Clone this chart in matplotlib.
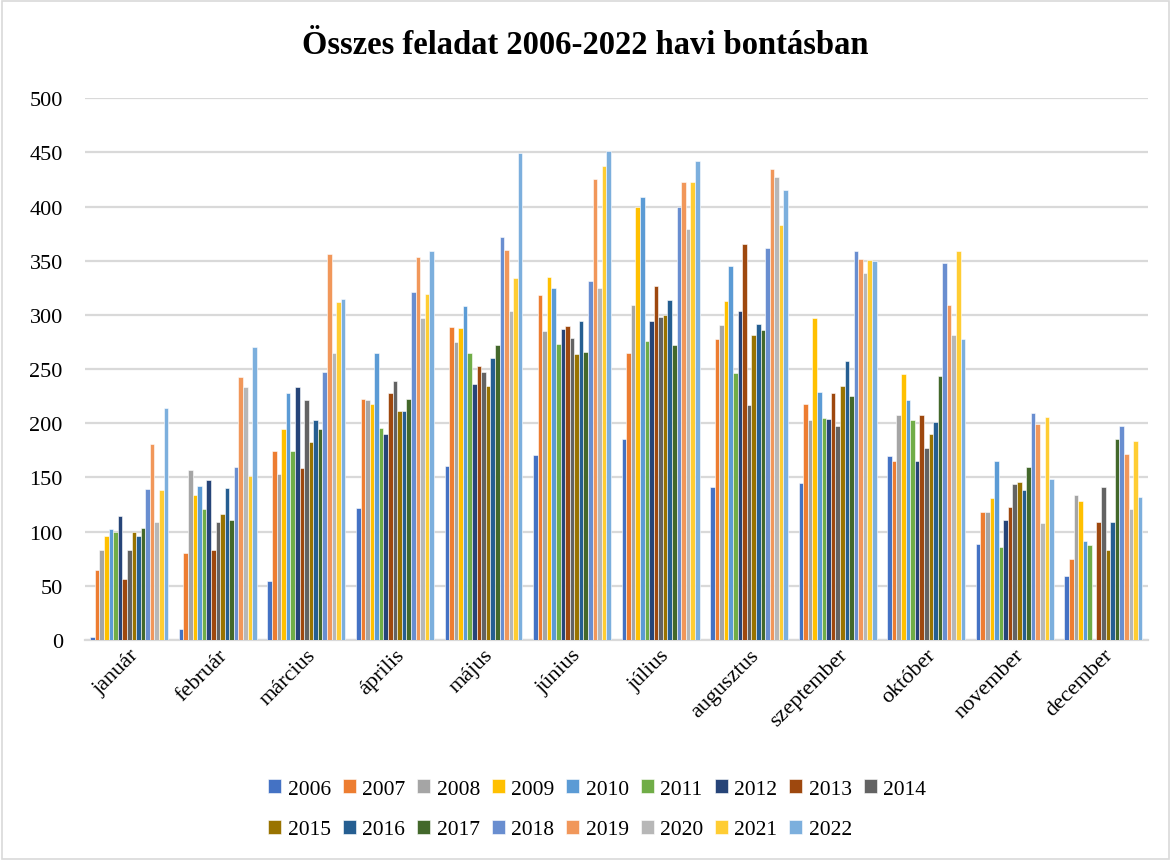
import matplotlib
matplotlib.use("Agg")
import matplotlib.pyplot as plt
from matplotlib.patches import Rectangle
import numpy as np

months = ["január", "február", "március", "április", "május", "június",
          "július", "augusztus", "szeptember", "október", "november", "december"]
years = [str(y) for y in range(2006, 2023)]

# havi feladatszámok évenként (jan..dec)
v2006 = [3, 10, 54, 122, 161, 171, 185, 141, 145, 170, 89, 59]
v2007 = [65, 80, 174, 222, 289, 318, 265, 278, 218, 165, 118, 75]
v2008 = [83, 157, 153, 221, 275, 285, 309, 291, 203, 208, 118, 134]
v2009 = [96, 134, 195, 218, 288, 335, 400, 313, 297, 245, 131, 128]
v2010 = [102, 142, 228, 265, 308, 325, 409, 345, 229, 221, 165, 91]
v2011 = [100, 121, 174, 196, 265, 273, 276, 246, 205, 203, 86, 88]
v2012 = [114, 148, 233, 190, 236, 287, 294, 304, 204, 165, 111, 0]
v2013 = [56, 83, 159, 228, 253, 290, 327, 365, 228, 208, 123, 109]
v2014 = [83, 109, 221, 239, 247, 279, 298, 217, 197, 177, 144, 141]
v2015 = [100, 116, 183, 211, 234, 264, 300, 281, 234, 190, 146, 83]
v2016 = [96, 140, 203, 211, 260, 294, 314, 292, 257, 201, 138, 109]
v2017 = [103, 111, 195, 222, 272, 266, 272, 286, 225, 244, 160, 185]
v2018 = [139, 160, 247, 321, 372, 331, 400, 362, 359, 348, 209, 197]
v2019 = [181, 243, 356, 353, 360, 425, 423, 435, 352, 309, 199, 172]
v2020 = [109, 233, 265, 297, 304, 325, 379, 427, 339, 281, 108, 121]
v2021 = [138, 151, 312, 319, 334, 437, 423, 383, 351, 359, 206, 184]
v2022 = [214, 270, 315, 359, 449, 451, 442, 415, 350, 278, 149, 132]

series = [v2006, v2007, v2008, v2009, v2010, v2011, v2012, v2013, v2014,
          v2015, v2016, v2017, v2018, v2019, v2020, v2021, v2022]

colors = ["#4472C4", "#ED7D31", "#A5A5A5", "#FFC000", "#5B9BD5", "#70AD47",
          "#264478", "#9E480E", "#636363", "#997300", "#255E91", "#43682B",
          "#698ED0", "#F1975A", "#B7B7B7", "#FFCD33", "#7CAFDD"]

plt.rcParams["font.family"] = ["Liberation Serif", "DejaVu Serif"]

fig = plt.figure(figsize=(11.71, 8.62), dpi=100)
ax = fig.add_axes([0.0726, 0.2564, 0.9074, 0.6286])

x = np.arange(len(months))
group = 0.88
w = group / len(series)
handles = []
for i, (vals, c, yr) in enumerate(zip(series, colors, years)):
    b = ax.bar(x - group / 2 + w * (i + 0.5), vals, width=w, color=c,
               edgecolor="white", linewidth=0.4, label=yr, zorder=3)
    handles.append(b)

ax.set_xlim(-0.5, len(months) - 0.5)
ax.set_ylim(0, 500)
ax.set_yticks(np.arange(0, 501, 50))
ax.yaxis.grid(True, color="#D9D9D9", linewidth=1.6, zorder=0)
ax.set_axisbelow(True)
for s in ["top", "right", "left"]:
    ax.spines[s].set_visible(False)
ax.spines["bottom"].set_color("#D9D9D9")
ax.spines["bottom"].set_linewidth(1.6)
ax.tick_params(axis="both", length=0, labelsize=16, colors="#000000")
ax.tick_params(axis="y", pad=16)
ax.tick_params(axis="x", pad=4)
ax.set_xticks(x)
ax.set_xticklabels(months, rotation=45, ha="right", rotation_mode="anchor")

fig.text(0.5, 0.947, "Összes feladat 2006-2022 havi bontásban", ha="center",
         va="center", fontsize=23.5, fontweight="bold")

# legend rows: 2006-2014 on top, 2015-2022 below (legend fills column-wise)
order = []
for k in range(9):
    order.append(k)
    if k + 9 < len(handles):
        order.append(k + 9)
fig.legend([handles[k] for k in order], [years[k] for k in order],
           loc="center", bbox_to_anchor=(0.51, 0.060), ncol=9, frameon=False,
           fontsize=15.5, handlelength=0.6, handleheight=0.6, handletextpad=0.3,
           columnspacing=0.55, labelspacing=1.0)

fig.patches.append(Rectangle((0.002, 0.002), 0.996, 0.996, transform=fig.transFigure,
                             fill=False, edgecolor="#D9D9D9", linewidth=1.2))

fig.savefig("out.png", dpi=100)
